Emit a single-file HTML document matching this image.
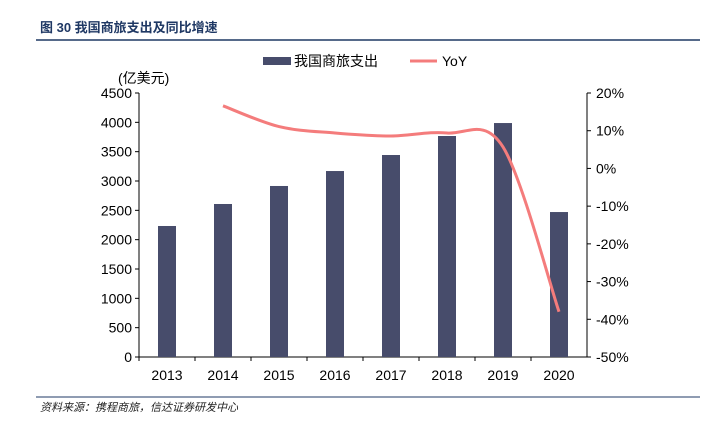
<!DOCTYPE html>
<html><head><meta charset="utf-8"><style>
body{margin:0;background:#fff;width:706px;height:431px;overflow:hidden;font-family:"Liberation Sans","Noto Sans CJK SC",sans-serif}
</style></head><body>
<svg width="706" height="431" xmlns="http://www.w3.org/2000/svg">
<text x="40" y="32" font-size="13" font-weight="bold" fill="#1f3864" font-family="Liberation Sans,Noto Sans CJK SC,sans-serif">图 30   我国商旅支出及同比增速</text>
<line x1="36" y1="40" x2="700" y2="40" stroke="#1f3864" stroke-width="1.5"/>
<line x1="36" y1="397" x2="700" y2="397" stroke="#1f3864" stroke-width="1"/>
<text x="40" y="411" font-size="11" font-style="italic" fill="#222">资料来源：携程商旅，信达证券研发中心</text>
<g id="legend">
<rect x="263" y="57" width="28" height="8" fill="#474c6b"/>
<text x="294" y="66" font-size="14" fill="#000">我国商旅支出</text>
<line x1="410" y1="61" x2="437" y2="61" stroke="#f47c7c" stroke-width="3"/>
<text x="442" y="66" font-size="14" fill="#000">YoY</text>
</g>
<text x="118" y="83" font-size="14" fill="#000">(亿美元)</text>
<g id="plot"></g>
</svg>
<script>
const categories=["2013","2014","2015","2016","2017","2018","2019","2020"];
const spending=[2233,2608,2915,3170,3443,3767,3988,2471];
const yoy=[null,16.6,11.1,9.4,8.6,9.4,5.7,-38];
const leftTicks=[0,500,1000,1500,2000,2500,3000,3500,4000,4500];
const rightTicks=[-50,-40,-30,-20,-10,0,10,20];

const NS="http://www.w3.org/2000/svg";
const g=document.getElementById('plot');
const X0=139,X1=587,YT=93,YB=357;
const step=(X1-X0)/categories.length;
const xc=i=>X0+step*(i+0.5);
const yl=v=>YB-(v/4500)*(YB-YT);
const yr=v=>YB-((v+50)/70)*(YB-YT);
function el(t,a){const e=document.createElementNS(NS,t);for(const k in a)e.setAttribute(k,a[k]);g.appendChild(e);return e;}
let ax=el('line',{x1:X0,y1:YT,x2:X0,y2:YB,stroke:'#000'});

ax=el('line',{x1:X1,y1:YT,x2:X1,y2:YB,stroke:'#000'});

ax=el('line',{x1:X0,y1:YB,x2:X1,y2:YB,stroke:'#000'});

leftTicks.forEach(v=>{const y=yl(v);
 const t=el('line',{x1:X0-4,y1:y,x2:X0,y2:y,stroke:'#000'});
 
 const s=el('text',{x:X0-7,y:y+5,'font-size':14,'text-anchor':'end'});s.textContent=v;
 });
rightTicks.forEach(v=>{const y=yr(v);
 const t=el('line',{x1:X1,y1:y,x2:X1+4,y2:y,stroke:'#000'});
 
 const s=el('text',{x:X1+9,y:y+5,'font-size':14});s.textContent=v+'%';
 });
categories.forEach((c,i)=>{
 const t=el('line',{x1:X0+step*i,y1:YB,x2:X0+step*i,y2:YB+4,stroke:'#000'});
 
 const s=el('text',{x:xc(i),y:YB+23,'font-size':14,'text-anchor':'middle'});s.textContent=c;
 
 const b=el('rect',{x:xc(i)-9,y:yl(spending[i]),width:18,height:YB-yl(spending[i]),fill:'#474c6b'});
 
});
const pts=[];yoy.forEach((v,i)=>{if(v!==null)pts.push([xc(i),yr(v)]);});
let d='M'+pts[0][0]+','+pts[0][1];
for(let i=0;i<pts.length-1;i++){
 const p0=pts[i-1]||pts[i],p1=pts[i],p2=pts[i+1],p3=pts[i+2]||p2;
 const c1=[p1[0]+(p2[0]-p0[0])/6,p1[1]+(p2[1]-p0[1])/6];
 const c2=[p2[0]-(p3[0]-p1[0])/6,p2[1]-(p3[1]-p1[1])/6];
 d+=` C${c1[0]},${c1[1]} ${c2[0]},${c2[1]} ${p2[0]},${p2[1]}`;
}
const ln=el('path',{d:d,fill:'none',stroke:'#f47c7c','stroke-width':3});

</script>
</body></html>
